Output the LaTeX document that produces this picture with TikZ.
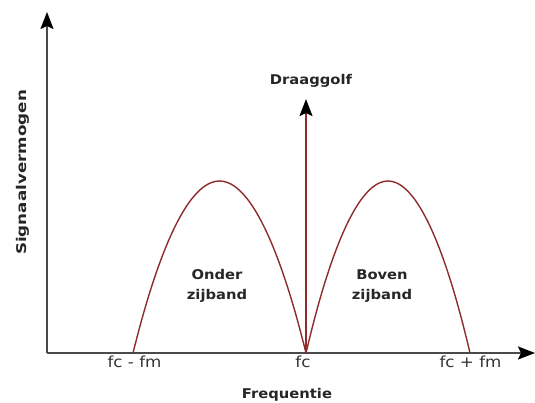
\documentclass[tikz,border=0pt]{standalone}
\usepackage{fontspec}
\setmainfont{DejaVu Sans}
\newfontfamily\plotfont{DejaVu Sans}[FakeStretch=1.1]
\newfontfamily\axisfont{DejaVu Sans}[FakeStretch=1.25]
\usepackage{tikz}
\usetikzlibrary{arrows.meta}
\definecolor{sbred}{HTML}{8E2B2B}
\definecolor{axgray}{HTML}{4A4A4A}

\begin{document}
\begin{tikzpicture}[x=1pt, y=1pt,
  axis/.style={draw=axgray, line width=2pt,
    -{Stealth[length=17pt, width=13pt, inset=3pt, color=black]}},
  band/.style={draw=sbred, line width=1.4pt},
  ticklbl/.style={font=\plotfont\fontsize{15.2}{17}\selectfont, text=black!80, anchor=base},
  boldlbl/.style={font=\plotfont\bfseries\fontsize{13.4}{20}\selectfont, text=black!85, align=center}]
\useasboundingbox (0,0) rectangle (535,403);
% axes
\coordinate (O) at (47,50);
\coordinate (ytip) at (47,391);
\coordinate (xtip) at (535,50);
\draw[axis] (O) -- (ytip);
\draw[axis] (O) -- (xtip);
% frequencies on the axis
\coordinate (lo) at (133,50);
\coordinate (fc) at (306,50);
\coordinate (hi) at (470,50);
\coordinate (lpk) at (219.5,222);
\coordinate (rpk) at (388,222);
% sidebands
\draw[band] (lo) parabola bend (lpk) (fc);
\draw[band] (fc) parabola bend (rpk) (hi);
% carrier
\node[boldlbl] (draag) at (311,322) {Draaggolf};
\draw[draw=sbred, line width=1.4pt, shorten >=8pt,
  -{Stealth[length=17pt, width=13pt, inset=3pt, color=black]}]
  (fc) -- (fc |- draag.south);
\node[boldlbl] (onder) at (217,117) {Onder\\zijband};
\node[boldlbl] (boven) at (382,117) {Boven\\zijband};
% labels
\node[ticklbl] (lolbl) at (134.5,35) {fc - fm};
\node[ticklbl] (fclbl) at (303,35) {fc};
\node[ticklbl] (hilbl) at (470.5,35) {fc + fm};
\node[boldlbl, anchor=base] (xlbl) at (287,4) {Frequentie};
\node[font=\axisfont\bfseries\fontsize{13.4}{15}\selectfont, text=black!85,
  rotate=90, anchor=base] (ylbl) at (26.3,230.5) {Signaalvermogen};
\end{tikzpicture}
\end{document}
